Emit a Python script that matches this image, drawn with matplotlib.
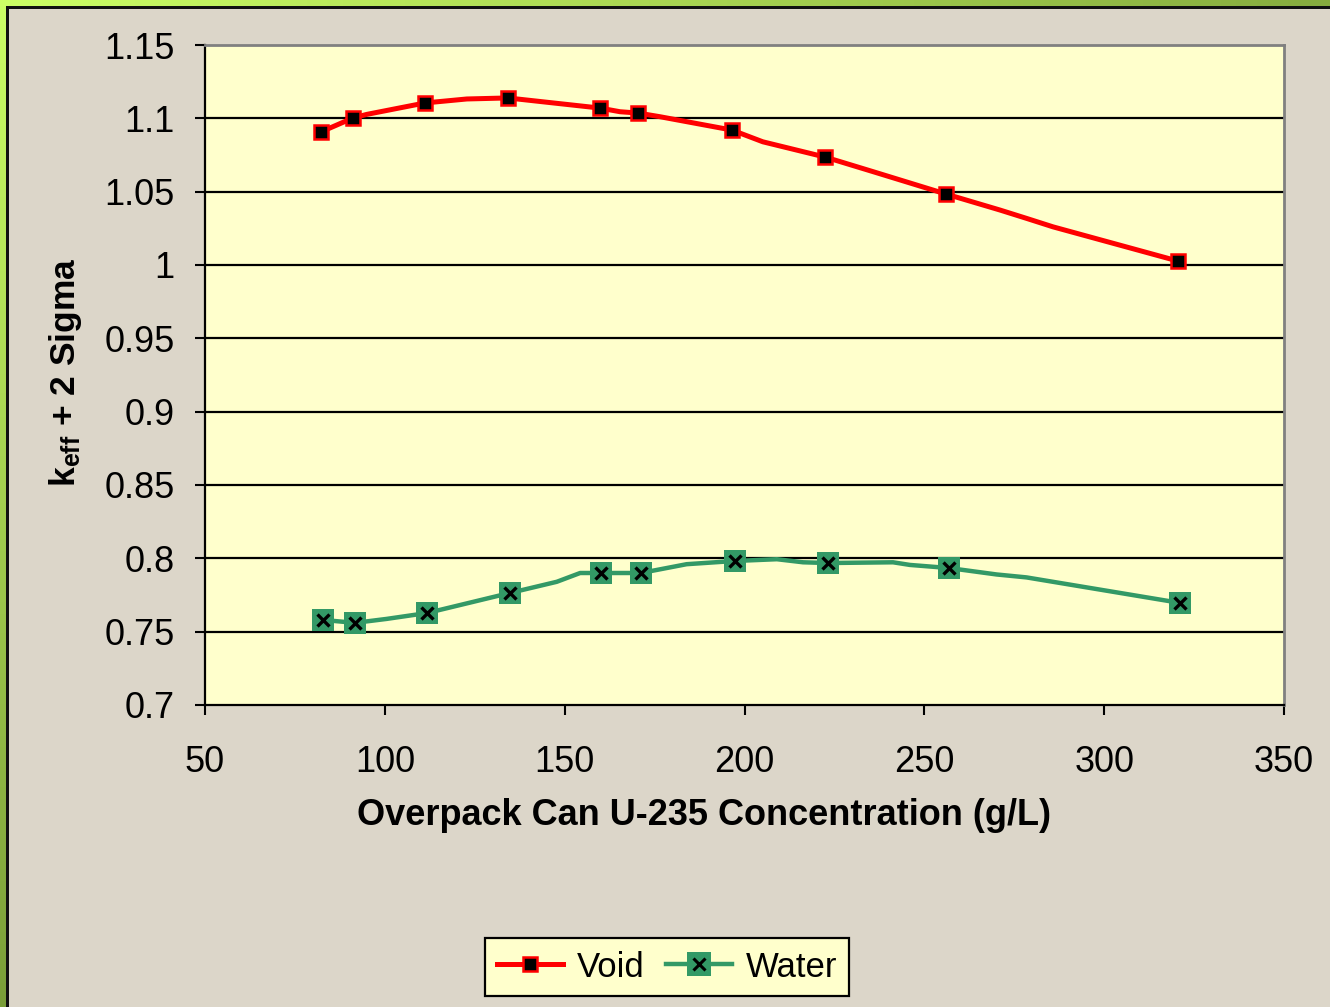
import numpy as np
import matplotlib.pyplot as plt
from matplotlib.patches import Rectangle
from matplotlib.colors import LinearSegmentedColormap

# ============================================================
# DATA
# ============================================================

void_conc = [82.2, 91.1, 95.0, 111.2, 122.8, 134.2, 159.8, 165.4, 170.4,
             176.5, 196.5, 205.1, 222.4, 235.8, 256.0, 271.0, 278.4,
             285.8, 320.5]
void_keff = [1.0907, 1.1002, 1.1027, 1.1105, 1.1132, 1.1139, 1.1070,
             1.1045, 1.1036, 1.1011, 1.0920, 1.0840, 1.0736, 1.0636,
             1.0484, 1.0375, 1.0318, 1.0260, 1.0027]
void_marks = [0, 1, 3, 5, 6, 8, 10, 12, 14, 18]

water_conc = [82.8, 91.7, 100.5, 111.7, 134.8, 147.8, 154.3, 160.1, 171.2,
              183.9, 197.3, 209.0, 216.3, 223.2, 241.3, 246.0, 256.8,
              270.1, 278.4, 321.1]
water_keff = [0.7580, 0.7560, 0.7587, 0.7627, 0.7764, 0.7840, 0.7900,
              0.7900, 0.7900, 0.7960, 0.7982, 0.7994, 0.7973, 0.7968,
              0.7973, 0.7955, 0.7934, 0.7890, 0.7870, 0.7696]
water_marks = [0, 1, 3, 4, 7, 8, 10, 13, 16, 19]

x_ticks = [50, 100, 150, 200, 250, 300, 350]
y_ticks = [0.7, 0.75, 0.8, 0.85, 0.9, 0.95, 1.0, 1.05, 1.1, 1.15]
y_labels = ["0.7", "0.75", "0.8", "0.85", "0.9", "0.95", "1", "1.05",
            "1.1", "1.15"]

# ============================================================
# STYLE
# ============================================================

plt.rcParams['font.family'] = ['Liberation Sans', 'DejaVu Sans']
plt.rcParams['mathtext.fontset'] = 'custom'
plt.rcParams['mathtext.rm'] = 'Liberation Sans'
plt.rcParams['mathtext.bf'] = 'Liberation Sans:bold'

RED = "#FF0000"
GREEN = "#339966"
PLOT_BG = "#FFFFCC"
PAGE_BG = "#DCD6C9"

fig = plt.figure(figsize=(13.3, 10.07), dpi=100)
fig.patch.set_facecolor(PAGE_BG)

# green frame on the left and top, with a dark inner line
grad = LinearSegmentedColormap.from_list("frame", ["#CCFF66", "#7A9E38"])
frame_ax = fig.add_axes([0, 0, 1, 1], zorder=-5)
frame_ax.axis("off")
ramp = np.linspace(0, 1, 256)
frame_ax.imshow(ramp.reshape(-1, 1), cmap=grad,
                extent=[0, 7, 1007, 0], aspect="auto")
frame_ax.imshow(ramp.reshape(1, -1) * 0.85, cmap=grad, vmin=0, vmax=1,
                extent=[0, 1330, 6, 0], aspect="auto")
frame_ax.add_patch(Rectangle((6, 6), 2.5, 1001, color="#111111", lw=0))
frame_ax.add_patch(Rectangle((6, 6), 1324, 2.5, color="#111111", lw=0))
frame_ax.set_xlim(0, 1330)
frame_ax.set_ylim(1007, 0)

ax = fig.add_axes([205 / 1330, 1 - 705 / 1007, 1079 / 1330, 660 / 1007])
ax.set_facecolor(PLOT_BG)

for y in y_ticks[1:-1]:
    ax.axhline(y, color="black", lw=1.6, zorder=1)

ax.plot(void_conc, void_keff, color=RED, lw=3.6, marker="s",
        markevery=void_marks, ms=10, mfc="black", mec=RED, mew=1.8,
        zorder=3)
ax.plot(water_conc, water_keff, color=GREEN, lw=3.2, marker="s",
        markevery=water_marks, ms=16.5, mfc=GREEN, mec=GREEN, mew=0,
        zorder=3)
ax.plot(water_conc, water_keff, ls="none", marker="x",
        markevery=water_marks, ms=9, mec="black", mew=2.4, zorder=4)

ax.set_xlim(50, 350)
ax.set_ylim(0.7, 1.15)
ax.set_xticks(x_ticks)
ax.set_yticks(y_ticks)
ax.set_yticklabels(y_labels)
ax.tick_params(axis="both", direction="out", length=7, width=1.5,
               labelsize=26, color="black")
ax.tick_params(axis="x", pad=22)
ax.tick_params(axis="y", pad=15)

for side in ["left", "bottom"]:
    ax.spines[side].set_color("black")
    ax.spines[side].set_linewidth(1.6)
for side in ["top", "right"]:
    ax.spines[side].set_color("#808080")
    ax.spines[side].set_linewidth(2.0)

ax.text(0.4625, -0.168, "Overpack Can U-235 Concentration (g/L)",
        transform=ax.transAxes, ha="center", va="center", fontsize=26,
        fontweight="bold")
ax.text(-0.1297, 0.5045, r"$\mathbf{k_{eff}}$ + 2 Sigma",
        transform=ax.transAxes, ha="center", va="center", rotation=90,
        fontsize=25.5, fontweight="bold")

# legend
h_void = plt.Line2D([], [], color=RED, lw=3.6, marker="s", ms=10.5,
                    mfc="black", mec=RED, mew=1.8)
h_water = plt.Line2D([], [], color=GREEN, lw=3.2, marker="s", ms=17,
                     mfc=GREEN, mec=GREEN, mew=0)
h_x = plt.Line2D([], [], ls="none", marker="x", ms=8, mec="black", mew=2.2)
leg = fig.legend([h_void, (h_water, h_x)], ["Void", "Water"],
                 loc="center", bbox_to_anchor=(0.5015, 0.0397), ncol=2,
                 fontsize=25, frameon=True, fancybox=False,
                 handlelength=1.9, handletextpad=0.4, columnspacing=0.6,
                 borderpad=0.35)
leg.get_frame().set_facecolor(PLOT_BG)
leg.get_frame().set_edgecolor("black")
leg.get_frame().set_linewidth(1.6)
leg.get_frame().set_alpha(1)

fig.savefig("out.png", dpi=100, facecolor=fig.get_facecolor())
